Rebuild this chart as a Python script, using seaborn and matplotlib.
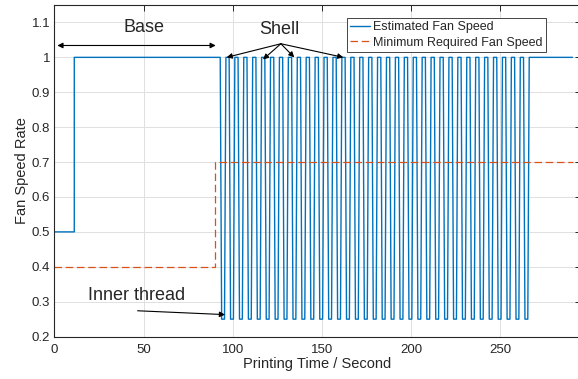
import matplotlib
matplotlib.use("Agg")
import matplotlib.pyplot as plt
import pandas as pd
import seaborn as sns

# --- Estimated fan speed ---------------------------------------------------
start_level = 0.5
high_level = 1.0
low_level = 0.25
base_rise_t = 11.2          # warm-up ends, fan goes to full speed
# time at which each shell dip reaches the low level
dip_starts = [93.8, 98.8, 103.8, 108.8, 113.8, 118.8, 123.8, 128.8, 133.8,
              138.8, 143.8, 148.8, 153.8, 158.8, 163.8, 168.8, 173.8, 178.8,
              183.8, 188.8, 193.8, 198.8, 203.8, 208.8, 213.8, 218.8, 223.8,
              228.8, 233.8, 238.8, 243.8, 248.8, 253.8, 258.8, 263.8]
dip_hold = 1.6              # seconds held at the low level
ramp = 0.8                  # seconds per speed transition
end_t = 290.5

# --- Minimum required fan speed -------------------------------------------
min_t = [0.0, 90.2, 90.2, 290.5]
min_v = [0.4, 0.4, 0.7, 0.7]

# --- axis ticks -------------------------------------------------------------
x_ticks = [0, 50, 100, 150, 200, 250]
y_ticks = [0.2, 0.3, 0.4, 0.5, 0.6, 0.7, 0.8, 0.9, 1.0, 1.1]
y_tick_labels = ["0.2", "0.3", "0.4", "0.5", "0.6", "0.7", "0.8", "0.9", "1", "1.1"]

# build the estimated fan-speed trace
est_t = [0.0, base_rise_t, base_rise_t]
est_v = [start_level, start_level, high_level]
for s in dip_starts:
    est_t += [s - ramp, s, s + dip_hold, s + dip_hold + ramp]
    est_v += [high_level, low_level, low_level, high_level]
est_t.append(end_t)
est_v.append(high_level)

est = pd.DataFrame({"t": est_t, "v": est_v})
req = pd.DataFrame({"t": min_t, "v": min_v})

sns.set_theme(style="whitegrid")
plt.rcParams["font.family"] = ["Liberation Sans", "DejaVu Sans"]

fig = plt.figure(figsize=(5.78, 3.79), dpi=100)
ax = fig.add_axes([54.3 / 578, (379 - 336.6) / 379, (580.6 - 54.3) / 578, (336.6 - 5) / 379])
ax.set_facecolor("white")

blue = "#0072BD"
orange = "#D95319"

sns.lineplot(data=est, x="t", y="v", sort=False, estimator=None, ax=ax,
             color=blue, lw=1.0, label="Estimated Fan Speed")
sns.lineplot(data=req, x="t", y="v", sort=False, estimator=None, ax=ax,
             color=orange, lw=0.9, label="Minimum Required Fan Speed")
ax.lines[1].set_dashes([6, 3])

ax.set_xlim(0, 295)
ax.set_ylim(0.2, 1.15)
ax.set_xticks(x_ticks)
ax.set_yticks(y_ticks)
ax.set_yticklabels(y_tick_labels)

ax.grid(True, color="#e0e0e0", lw=0.7)
for side in ["left", "bottom", "top", "right"]:
    ax.spines[side].set_visible(True)
    ax.spines[side].set_color("#262626")
    ax.spines[side].set_linewidth(0.8)
ax.tick_params(direction="in", length=4, width=0.7, colors="#262626",
               labelsize=9.5, top=True, right=True, pad=3,
               labelcolor="#262626")
ax.tick_params(axis="x", pad=5)

ax.set_xlabel("Printing Time / Second", fontsize=10.5, color="#262626", labelpad=1)
ax.set_ylabel("Fan Speed Rate", fontsize=10.5, color="#262626", labelpad=2)

leg = ax.legend(loc="upper right", bbox_to_anchor=(546 / 578, 1 - 18.3 / 379),
                bbox_transform=fig.transFigure, borderaxespad=0,
                fontsize=9, handlelength=1.6, handletextpad=0.3,
                labelspacing=0.25, borderpad=0.25, fancybox=False,
                framealpha=1, edgecolor="#262626")
leg.get_frame().set_linewidth(0.6)

# annotations
arrow_kw = dict(arrowstyle="-|>", color="black", lw=0.8, mutation_scale=8,
                shrinkA=0, shrinkB=0)
ax.text(50.3, 1.085, "Base", fontsize=13, ha="center", va="center")
ax.annotate("", xy=(90.5, 1.034), xytext=(1.7, 1.034),
            arrowprops=dict(arrowstyle="<|-|>", color="black", lw=0.8,
                            mutation_scale=8, shrinkA=0, shrinkB=0))

ax.text(126.1, 1.081, "Shell", fontsize=13, ha="center", va="center")
for tx, ty in [(96.6, 1.0), (117.0, 0.994), (134.5, 1.0), (162.0, 1.0)]:
    ax.annotate("", xy=(tx, ty), xytext=(127.0, 1.039), arrowprops=arrow_kw)

ax.text(45.96, 0.319, "Inner thread", fontsize=13, ha="center", va="center")
ax.annotate("", xy=(95.7, 0.263), xytext=(46.7, 0.274), arrowprops=arrow_kw)

fig.savefig("out.png", dpi=100)
